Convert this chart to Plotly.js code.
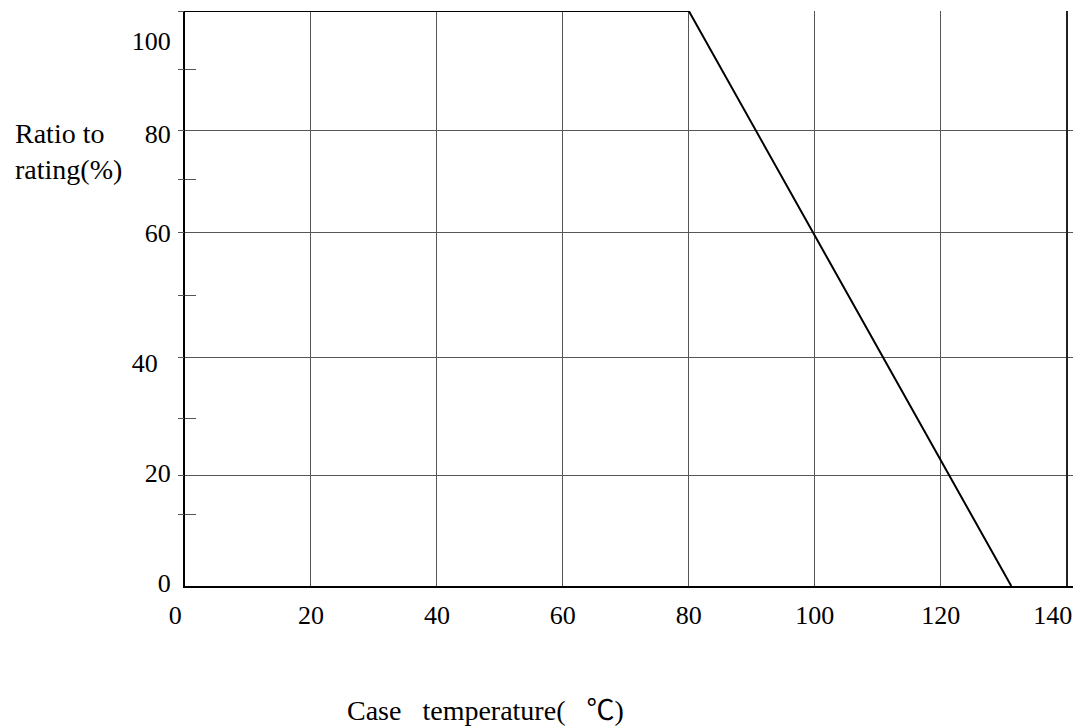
<!DOCTYPE html>
<html>
<head>
<meta charset="utf-8">
<script src="https://cdn.plot.ly/plotly-3.0.1.min.js"></script>
<style>html,body{margin:0;padding:0;background:#fff;}#chart{width:1081px;height:726px;}</style>
</head>
<body>
<div id="chart"></div>
<script>
// Derating curve (y axis calibrated to the drawn grid)
const caseTemp = [0, 80, 131.2];
const ratioPct = [105, 105, 0];

// x axis labels (as placed in the picture) and grid positions
const xLabelVals = [0, 20, 40, 60, 80, 100, 120, 137.8];
const xLabelText = ['0\u00a0\u00a0\u00a0', '20', '40', '60', '80', '100', '120', '140'];
const xGridVals = [20, 40, 60, 80, 100, 120];
const xBorderVals = [140];

// y axis labels (as placed in the picture) and grid / minor tick positions
const yLabelVals = [0.5, 20.7, 40.8, 64.5, 82.5, 99.6];
const yLabelText = ['0', '20', '40\u00a0\u00a0', '60', '80', '100'];
const yGridVals = [20.1, 41.8, 64.6, 83.1, 105];
const yMinorVals = [13.0, 30.5, 53.1, 74.3, 94.4];

const FONT = 'Liberation Serif, "Times New Roman", serif';
const GRID = '#555';

const traces = [
  {x: caseTemp, y: ratioPct, type: 'scatter', mode: 'lines',
   line: {color: '#000', width: 2}, cliponaxis: false, hoverinfo: 'skip'},
  {x: [], y: [], yaxis: 'y2', type: 'scatter', mode: 'lines', hoverinfo: 'skip'},
  {x: [], y: [], yaxis: 'y3', type: 'scatter', mode: 'lines', hoverinfo: 'skip'},
  {x: [], y: [], xaxis: 'x2', type: 'scatter', mode: 'lines', hoverinfo: 'skip'},
  {x: [], y: [], xaxis: 'x3', type: 'scatter', mode: 'lines', hoverinfo: 'skip'}
];

const layout = {
  width: 1081, height: 726,
  margin: {l: 185, r: 8, t: 11, b: 140, pad: 0},
  paper_bgcolor: '#fff', plot_bgcolor: '#fff',
  showlegend: false,
  font: {family: FONT, size: 26, color: '#000'},
  xaxis: {
    range: [0, 141], tickmode: 'array', tickvals: xLabelVals, ticktext: xLabelText,
    showgrid: false, zeroline: false,
    showline: true, linecolor: '#000', linewidth: 2,
    ticks: '', ticklabelstandoff: 5,
    tickfont: {family: FONT, size: 26, color: '#000'}, fixedrange: true
  },
  xaxis2: {
    overlaying: 'x', range: [0, 141], tickmode: 'array', tickvals: xGridVals,
    showgrid: true, gridcolor: GRID, gridwidth: 1, zeroline: false, showline: false,
    showticklabels: false, ticks: '', fixedrange: true
  },
  xaxis3: {
    overlaying: 'x', range: [0, 141], tickmode: 'array', tickvals: xBorderVals,
    showgrid: true, gridcolor: '#222', gridwidth: 2, zeroline: false, showline: false,
    showticklabels: false, ticks: '', fixedrange: true
  },
  yaxis: {
    range: [0, 105], tickmode: 'array', tickvals: yLabelVals, ticktext: yLabelText,
    showgrid: false, zeroline: false,
    showline: true, linecolor: '#000', linewidth: 2,
    ticks: '', ticklabelstandoff: 7,
    tickfont: {family: FONT, size: 26, color: '#000'}, fixedrange: true
  },
  yaxis2: {
    overlaying: 'y', range: [0, 105], tickmode: 'array', tickvals: yGridVals,
    showgrid: true, gridcolor: GRID, gridwidth: 1, zeroline: false, showline: false,
    showticklabels: false, ticks: 'outside', ticklen: 6, tickcolor: GRID, tickwidth: 1,
    minor: {tickmode: 'array', tickvals: yMinorVals, ticks: 'outside', ticklen: 6, tickcolor: GRID, tickwidth: 1, showgrid: false},
    fixedrange: true
  },
  yaxis3: {
    overlaying: 'y', range: [0, 105], tickmode: 'array', tickvals: yMinorVals,
    showgrid: false, zeroline: false, showline: false, showticklabels: false,
    ticks: 'inside', ticklen: 11, tickcolor: GRID, tickwidth: 1, fixedrange: true
  },
  annotations: [
    {text: 'Ratio to<br>rating(%)', xref: 'paper', yref: 'paper',
     x: (13 - 185) / 888, y: (586 - 151) / 575, xanchor: 'left', yanchor: 'middle',
     align: 'left', showarrow: false, font: {family: FONT, size: 28, color: '#000'}},
    {text: 'Case\u00a0\u00a0\u00a0temperature(\u00a0\u00a0\u00a0℃)', xref: 'paper', yref: 'paper',
     x: (345 - 185) / 888, y: (586 - 710) / 575, xanchor: 'left', yanchor: 'middle',
     showarrow: false, font: {family: FONT + ', "Noto Sans CJK SC"', size: 28, color: '#000'}}
  ]
};

Plotly.newPlot('chart', traces, layout, {staticPlot: true, displayModeBar: false});
</script>
</body>
</html>
